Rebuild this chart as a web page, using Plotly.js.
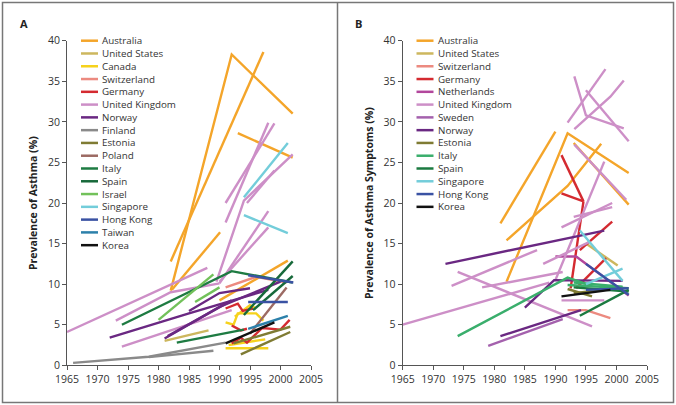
<!DOCTYPE html>
<html>
<head>
<meta charset="utf-8">
<script src="https://cdn.plot.ly/plotly-3.0.1.min.js"></script>
<style>
  html, body { margin: 0; padding: 0; background: #fff; }
  #plot { width: 676px; height: 405px; }
</style>
</head>
<body>
<div id="plot"></div>
<script>
// Panel A: prevalence of asthma. Each array = [year, %] points, null = break between studies
const aAustralia = [[1982, 9.2], [1992, 38.3], [2002, 31], null, [1982, 12.8], [1997.2, 38.6], null,
  [1982.2, 9.3], [1990.1, 16.4], null, [1993, 28.6], [2002, 25.6], null, [1990, 8], [2001.2, 12.9]];
const aUnitedStates = [[1981, 3.0], [1988.2, 4.3]];
const aCanada = [[1991, 5.3], [1992.3, 5.0], [1993, 6.4], [1996, 6.4], [1997.2, 5.5], null,
  [1991, 2.1], [1998, 2.1], null, [1991.5, 2.5], [1997.5, 3.2], null, [1992.5, 6.0], [1995, 7.4], [1996, 7.0]];
const aSwitzerland = [[1991, 9.6], [1996, 10.9], [2001, 10.2]];
const aGermany = [[1991, 7.0], [1993, 7.6], [1993.8, 6.7], [1995.5, 7.0], null,
  [1992, 2.7], [1993.5, 3.4], [1994.5, 2.8], [1997, 4.6], [2000, 4.4], [2001.5, 5.6], null,
  [1992, 4.9], [1993.5, 4.3], [1994.5, 4.5]];
const aUnitedKingdom = [[1965, 4.1], [1988, 12.0], null, [1973, 5.5], [1982, 9.0], [1990, 10.1], null,
  [1991, 17.6], [1998, 29.9], null, [1991, 20.0], [1999, 29.8], null,
  [1989.5, 10.3], [1994, 20.3], [2002, 26.0], null, [1994.5, 20.0], [1999, 24.0], null,
  [1990, 10.1], [1998, 19.0], null, [1990, 10.3], [1998, 17.0], null, [1974, 2.3], [1992, 6.8]];
const aNorway = [[1972, 3.4], [1985, 6.4], [1998, 9.3], null, [1981, 3.3], [1990, 7.2], [2000, 10.3], null,
  [1985, 6.7], [1990, 8.9], [1995, 9.5], null, [1981.5, 3.6], [1992, 8.0]];
const aFinland = [[1966, 0.3], [1978.4, 1.05], [1991, 2.8], null, [1978.4, 1.0], [1989, 1.8]];
const aEstonia = [[1993.5, 1.35], [2001.6, 4.1], null, [1992.3, 2.7], [2001.6, 4.75]];
const aPoland = [[1995, 3.9], [2001, 9.6]];
const aItaly = [[1974, 5.0], [1992, 11.6], [2002, 10.2], null, [1983, 2.8], [1994, 4.4]];
const aSpain = [[1994, 6.2], [2002, 12.8], null, [1995.5, 6.8], [2002, 11.0]];
const aIsrael = [[1980, 5.6], [1989, 11.2], null, [1986, 7.8], [1990, 9.6]];
const aSingapore = [[1994, 20.7], [2001.2, 27.4], null, [1994, 18.5], [2001.2, 16.3]];
const aHongKong = [[1994.7, 7.8], [2001.2, 7.8], null, [1994.7, 11.1], [2002.1, 10.2]];
const aTaiwan = [[1994.7, 4.5], [2001.2, 6.1]];
const aKorea = [[1991, 2.7], [1999, 5.3]];

// Panel B: prevalence of asthma symptoms
const bAustralia = [[1981, 17.5], [1990, 28.8], null, [1982, 10.3], [1992, 28.6], [2002, 23.7], null,
  [1982, 15.4], [1992, 22.1], [1997.5, 27.3], null, [1993, 27.4], [2002, 19.8]];
const bUnitedStates = [[1995, 15], [2000.2, 12.3]];
const bSwitzerland = [[1992, 6.8], [1995, 6.8], [1999, 5.8]];
const bGermany = [[1991, 25.9], [1994.6, 20.2], null, [1991, 21.2], [1994.6, 20.2], null,
  [1992.5, 9.5], [1994.6, 20.2], null, [1994, 14.2], [1999.3, 17.7], null, [1993.4, 9.5], [1998.3, 13.2]];
const bNetherlands = [[1990, 13.4], [1993.4, 13.4], [2002, 8.6]];
const bUnitedKingdom = [[1992, 29.9], [1998.2, 36.5], null, [1993.1, 35.6], [1995, 30.8], [2001.2, 29.2], null,
  [1993.1, 29.1], [1999, 33.1], [2001.2, 35.1], null, [1995, 33.9], [2002, 27.6], null,
  [1965, 5.0], [1989, 10.2], null, [1990, 10.5], [1998, 25.1], null, [1974, 11.5], [1996, 4.8], null,
  [1973, 9.8], [1987, 14.2], null, [1978, 9.6], [1991.2, 11.5], null, [1988, 12.5], [1995.6, 15.2], null,
  [1991, 17.0], [1999.3, 20.0], null, [1993, 18.3], [1999.3, 19.5], null, [1991, 8.0], [1998, 8.0], null,
  [1993.1, 27.2], [2001.6, 20.4]];
const bSweden = [[1979, 2.4], [1991.2, 5.7]];
const bNorway = [[1972, 12.5], [1998, 16.6], null, [1981, 3.6], [1994.2, 6.8], null,
  [1985, 7.1], [1989.8, 10.5], [2001, 10.4]];
const bEstonia = [[1992, 9.4], [1996, 8.5], null, [1993, 8.9], [2001, 9.6]];
const bItaly = [[1974, 3.6], [1992, 10.8], [1996, 9.8], null, [1992, 9.9], [2002, 9.5], null, [1993, 10.2], [2001, 9.7]];
const bSpain = [[1994, 6.1], [2002, 9.3], null, [1993, 9.6], [2002, 9.1]];
const bSingapore = [[1994, 16.6], [2001, 10.4], null, [1995, 10.0], [2001, 11.9]];
const bHongKong = [[1995, 12.5], [2002, 8.7], null, [1995, 9.3], [2002, 9.5]];
const bKorea = [[1991, 8.5], [1999, 9.3]];

const countriesA = ["Australia", "United States", "Canada", "Switzerland", "Germany", "United Kingdom",
  "Norway", "Finland", "Estonia", "Poland", "Italy", "Spain", "Israel", "Singapore", "Hong Kong", "Taiwan", "Korea"];
const seriesA = [aAustralia, aUnitedStates, aCanada, aSwitzerland, aGermany, aUnitedKingdom,
  aNorway, aFinland, aEstonia, aPoland, aItaly, aSpain, aIsrael, aSingapore, aHongKong, aTaiwan, aKorea];

const countriesB = ["Australia", "United States", "Switzerland", "Germany", "Netherlands", "United Kingdom",
  "Sweden", "Norway", "Estonia", "Italy", "Spain", "Singapore", "Hong Kong", "Korea"];
const seriesB = [bAustralia, bUnitedStates, bSwitzerland, bGermany, bNetherlands, bUnitedKingdom,
  bSweden, bNorway, bEstonia, bItaly, bSpain, bSingapore, bHongKong, bKorea];

const colorsA = {
  "Australia": "#f4a52a", "United States": "#cdb75e", "Canada": "#f6d21c", "Switzerland": "#ec8a80",
  "Germany": "#d42a30", "United Kingdom": "#cd8fc7", "Norway": "#6a2882", "Finland": "#8a8a8a",
  "Estonia": "#7f7b33", "Poland": "#9c6a63", "Italy": "#1e7b42", "Spain": "#17693a", "Israel": "#72c15a",
  "Singapore": "#73cdda", "Hong Kong": "#3a52a3", "Taiwan": "#2c80aa", "Korea": "#111111"
};
const colorsB = Object.assign({}, colorsA, {
  "Netherlands": "#b2479c", "Sweden": "#a461ad", "Italy": "#3aae6c", "Spain": "#1b7a40"
});

const W = 676, H = 405;
const px = v => v / W;
const py = v => 1 - v / H;

function buildTraces(names, series, colors, xa, ya) {
  return names.map((name, i) => ({
    type: "scatter",
    mode: "lines",
    name: name,
    x: series[i].map(p => p ? p[0] : null),
    y: series[i].map(p => p ? p[1] : null),
    xaxis: xa, yaxis: ya,
    line: { color: colors[name], width: 2.4 },
    hoverinfo: "x+y+name",
    showlegend: false
  }));
}

const traces = buildTraces(countriesA, seriesA, colorsA, "x", "y")
  .concat(buildTraces(countriesB, seriesB, colorsB, "x2", "y2"));

const tickFont = { family: "Open Sans, sans-serif", size: 10.5, color: "#333" };
const xBase = {
  range: [1965, 2005], dtick: 5, tick0: 1965, ticks: "outside", ticklen: 4, tickcolor: "#555",
  showline: true, linecolor: "#555", linewidth: 1, showgrid: false, zeroline: false,
  tickfont: tickFont, fixedrange: true
};
const yBase = {
  range: [0, 40], dtick: 5, ticks: "outside", ticklen: 4, tickcolor: "#555",
  showline: true, linecolor: "#555", linewidth: 1, showgrid: false, zeroline: false,
  tickfont: tickFont, fixedrange: true, domain: [py(365.3), py(40.7)]
};

// compact legends drawn like the original figure (Plotly's own legend rows are too tall)
const shapes = [
  { type: "rect", xref: "paper", yref: "paper", x0: px(2.5), x1: px(673.5), y0: py(402.5), y1: py(2.5),
    line: { color: "#777", width: 1.5 } },
  { type: "line", xref: "paper", yref: "paper", x0: px(337.5), x1: px(337.5), y0: py(402.5), y1: py(2.5),
    line: { color: "#777", width: 1.5 } }
];
const annotations = [];
const legFont = { family: "Open Sans, sans-serif", size: 9.8, color: "#333" };

function addLegend(names, colors, lineX0, lineX1, textX, top, step) {
  names.forEach((name, i) => {
    const yy = top + i * step;
    shapes.push({ type: "line", xref: "paper", yref: "paper", x0: px(lineX0), x1: px(lineX1),
      y0: py(yy), y1: py(yy), line: { color: colors[name], width: 2.5 } });
    annotations.push({ xref: "paper", yref: "paper", x: px(textX), y: py(yy), text: name,
      showarrow: false, xanchor: "left", yanchor: "middle", font: legFont, borderpad: 0 });
  });
}
addLegend(countriesA, colorsA, 81, 98, 101, 40.7, 12.78);
addLegend(countriesB, colorsB, 416.5, 433.5, 437, 40.7, 12.78);

const titleFont = { family: "Open Sans, sans-serif", size: 10.5, color: "#222" };
annotations.push(
  { xref: "paper", yref: "paper", x: px(24), y: py(24), text: "<b>A</b>", showarrow: false,
    xanchor: "center", yanchor: "middle", font: { family: "Open Sans, sans-serif", size: 11, color: "#222" } },
  { xref: "paper", yref: "paper", x: px(358), y: py(24), text: "<b>B</b>", showarrow: false,
    xanchor: "center", yanchor: "middle", font: { family: "Open Sans, sans-serif", size: 11, color: "#222" } },
  { xref: "paper", yref: "paper", x: px(33), y: py(203), text: "<b>Prevalence of Asthma (%)</b>",
    textangle: -90, showarrow: false, xanchor: "center", yanchor: "middle", font: titleFont },
  { xref: "paper", yref: "paper", x: px(369), y: py(203), text: "<b>Prevalence of Asthma Symptoms (%)</b>",
    textangle: -90, showarrow: false, xanchor: "center", yanchor: "middle", font: titleFont }
);

const layout = {
  width: W, height: H,
  margin: { l: 0, r: 0, t: 0, b: 0 },
  paper_bgcolor: "#fff", plot_bgcolor: "#fff",
  showlegend: false,
  xaxis: Object.assign({}, xBase, { domain: [px(67), px(311)], anchor: "y" }),
  yaxis: Object.assign({}, yBase, { anchor: "x" }),
  xaxis2: Object.assign({}, xBase, { domain: [px(402.7), px(647)], anchor: "y2" }),
  yaxis2: Object.assign({}, yBase, { anchor: "x2" }),
  shapes: shapes,
  annotations: annotations
};

Plotly.newPlot("plot", traces, layout, { displayModeBar: false, staticPlot: true });
</script>
</body>
</html>
